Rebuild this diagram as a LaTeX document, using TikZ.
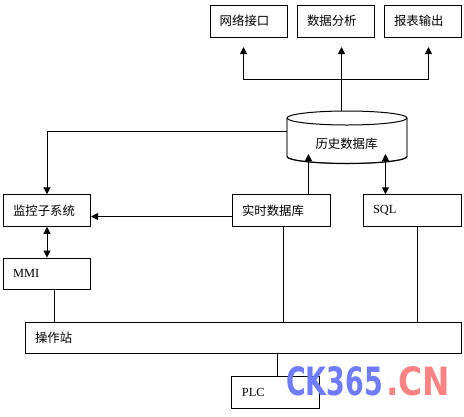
\documentclass[tikz,border=0pt]{standalone}
\usepackage{fontspec}
\setmainfont{Liberation Serif}
\newfontfamily\cjk{Noto Sans CJK SC}
\newfontfamily\wm{DejaVu Sans}
\usetikzlibrary{arrows.meta,calc}
\definecolor{wmblue}{RGB}{112,124,255}
\definecolor{wmred}{RGB}{255,130,130}
\tikzset{
  x=1pt,y=-1pt,
  boxn/.style={draw=black,line width=1pt,rectangle,inner xsep=0pt,inner ysep=0pt,font=\fontsize{12.4}{13}\selectfont,align=left},
  small/.style={boxn,minimum width=77pt,minimum height=32pt,text width=58pt},
  mid/.style={boxn,minimum width=87pt,minimum height=31.5pt,text width=68pt},
  wide/.style={boxn,minimum width=98pt,minimum height=31.5pt,text width=78pt},
  wire/.style={draw=black,line width=1pt},
  tip/.style={-{Triangle[length=7pt,width=7pt]}},
  tips/.style={{Triangle[length=7pt,width=7pt]}-{Triangle[length=7pt,width=7pt]}},
  wmark/.style={inner sep=0pt,anchor=west},
}
\begin{document}
\begin{tikzpicture}
\useasboundingbox (0,0) rectangle (464,416);
\fill[white] (0,0) rectangle (464,416);
% top boxes
\node[small] (net) at (248.7,21) {\cjk 网络接口};
\node[small] (ana) at (336,21) {\cjk 数据分析};
\node[small] (rep) at (423,21) {\cjk 报表输出};
% cylinder
\draw[black!70,line width=1.2pt] (287,118) -- (287,156.5) arc[start angle=180,end angle=360,x radius=60,y radius=-7] -- (407,118);
\draw[black,line width=1pt,fill=white] (347,118) ellipse[x radius=60,y radius=7];
\draw[black,line width=1pt] (287,156.5) arc[start angle=180,end angle=360,x radius=60,y radius=-7];
\node[font=\fontsize{12.4}{13}\selectfont] (hist) at (346.5,143.5) {\cjk 历史数据库};
% middle
\node[mid] (mon) at (47,210.5) {\cjk 监控子系统};
\node[mid] (mmi) at (47,273.8) {MMI};
\node[wide] (rt) at (281,210.5) {\cjk 实时数据库};
\node[wide] (sql) at (412,210.5) {SQL};
\node[boxn,minimum width=436pt,minimum height=31.5pt,text width=417pt] (op) at (243.5,338.2) {\cjk 操作站};
\node[boxn,minimum width=87.5pt,minimum height=32pt,text width=67.5pt] (plc) at (275.7,392) {PLC};
% helper coordinates
\coordinate (junc) at (341.5,79);
\coordinate (histtop) at (341.5,111);
\coordinate (anatip) at (341.5,47);
\coordinate (nettip) at (243.5,47);
\coordinate (reptip) at (428.5,47);
\coordinate (histleft) at (287,131);
\coordinate (corner) at (47,131);
\coordinate (rtup) at (308.5,154);
\coordinate (sqlup) at (385.5,154);
% connectors
\draw[wire,tip] (histtop) -- (anatip);
\draw[wire,tip] (junc) -| (nettip);
\draw[wire,tip] (junc) -| (reptip);
\draw[wire,tip] (histleft) -- (corner) -- (mon.north);
\draw[wire,tips] (mon.south) -- (mmi.north);
\draw[wire,tip] (rt.west |- 0,216.5) -- (mon.east |- 0,216.5);
\draw[wire,tip] (rtup |- rt.north) -- (rtup);
\draw[wire,tips] (sqlup |- sql.north) -- (sqlup);
\draw[wire] (283.5,226.2) -- (283.5,322.4);
\draw[wire] (417.5,226.2) -- (417.5,322.4);
\draw[wire] (54.5,289.5) -- (54.5,322.4);
\draw[wire] (277.5,354) -- (277.5,376);
% watermark
\node[wmark,font=\wm\bfseries\fontsize{39}{39}\selectfont,text=wmblue,xscale=0.69] (wma) at (286,381.5) {CK365};
\node[wmark,font=\wm\bfseries\fontsize{39}{39}\selectfont,text=wmred,xscale=0.84] (wmb) at (386,381.5) {.CN};
\end{tikzpicture}
\end{document}
